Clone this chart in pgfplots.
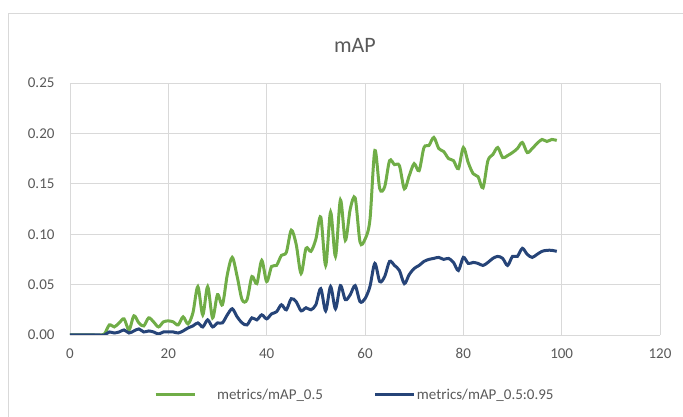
\documentclass[border=0pt]{standalone}
\usepackage{pgfplots}
\pgfplotsset{compat=1.18}
\usepackage{fontspec}
\setmainfont{Carlito}

\definecolor{xlgreen}{HTML}{70AD47}
\definecolor{xlblue}{HTML}{264478}
\definecolor{txtgray}{HTML}{595959}
\definecolor{gridgray}{HTML}{D9D9D9}

% mAP@0.5 per epoch
\pgfplotstableread{
ep map
0 0
1 0
2 0
3 0
4 0
5 0
6 0
7 0.001
8 0.010
9 0.008
10 0.012
11 0.016
12 0.005
13 0.019
14 0.012
15 0.009
16 0.017
17 0.013
18 0.008
19 0.013
20 0.014
21 0.013
22 0.010
23 0.018
24 0.011
25 0.022
26 0.048
27 0.020
28 0.048
29 0.017
30 0.040
31 0.030
32 0.060
33 0.077
34 0.058
35 0.035
36 0.035
37 0.058
38 0.051
39 0.074
40 0.053
41 0.068
42 0.069
43 0.079
44 0.082
45 0.104
46 0.090
47 0.061
48 0.086
49 0.083
50 0.095
51 0.117
52 0.069
53 0.122
54 0.078
55 0.134
56 0.094
57 0.125
58 0.136
59 0.092
60 0.095
61 0.114
62 0.183
63 0.145
64 0.147
65 0.173
66 0.169
67 0.168
68 0.145
69 0.158
70 0.170
71 0.163
72 0.186
73 0.188
74 0.196
75 0.185
76 0.182
77 0.175
78 0.173
79 0.165
80 0.186
81 0.171
82 0.160
83 0.157
84 0.146
85 0.173
86 0.179
87 0.186
88 0.176
89 0.178
90 0.181
91 0.185
92 0.191
93 0.181
94 0.185
95 0.190
96 0.194
97 0.192
98 0.194
99 0.193
}\mapfifty

% mAP@0.5:0.95 per epoch
\pgfplotstableread{
ep map
0 0
1 0
2 0
3 0
4 0
5 0
6 0
7 0
8 0.003
9 0.002
10 0.003
11 0.005
12 0.002
13 0.004
14 0.006
15 0.003
16 0.004
17 0.003
18 0.001
19 0.003
20 0.003
21 0.003
22 0.002
23 0.004
24 0.007
25 0.009
26 0.012
27 0.008
28 0.015
29 0.008
30 0.012
31 0.012
32 0.020
33 0.026
34 0.018
35 0.012
36 0.010
37 0.017
38 0.015
39 0.020
40 0.016
41 0.021
42 0.023
43 0.030
44 0.025
45 0.036
46 0.033
47 0.024
48 0.027
49 0.025
50 0.030
51 0.046
52 0.024
53 0.048
54 0.026
55 0.049
56 0.035
57 0.040
58 0.049
59 0.033
60 0.036
61 0.048
62 0.071
63 0.053
64 0.058
65 0.073
66 0.069
67 0.064
68 0.051
69 0.060
70 0.066
71 0.069
72 0.073
73 0.075
74 0.076
75 0.077
76 0.075
77 0.076
78 0.072
79 0.064
80 0.077
81 0.071
82 0.072
83 0.071
84 0.069
85 0.072
86 0.076
87 0.078
88 0.076
89 0.069
90 0.078
91 0.078
92 0.086
93 0.080
94 0.077
95 0.080
96 0.083
97 0.084
98 0.084
99 0.083
}\mapall

\pgfplotsset{
  xlleg/.style={legend image code/.code={
      \draw[##1, line width=3pt] (0pt,0pt) -- (39pt,0pt);}},
}

\begin{document}
\begin{tikzpicture}[x=1pt,y=1pt]
\useasboundingbox (0,0) rectangle (683,417);
\draw[gridgray] (8,-10) rectangle (700,404);
\node[txtgray, font=\fontsize{22}{26}\selectfont] at (355,372) {mAP};
\begin{axis}[
    at={(70pt,82pt)}, anchor=south west,
    scale only axis,
    width=590pt, height=252pt,
    xmin=0, xmax=120, ymin=0, ymax=0.25,
    xtick={0,20,...,120},
    ytick={0,0.05,...,0.25},
    axis line style={draw=none},
    grid=major,
    major grid style={gridgray, line width=0.8pt},
    tick style={draw=none},
    ticklabel style={txtgray, font=\fontsize{15}{18}\selectfont},
    /pgf/number format/assume math mode=true,
    yticklabel={\pgfmathprintnumber[fixed, fixed zerofill, precision=2]{\tick}},
    xticklabel style={yshift=-10pt},
    yticklabel style={xshift=-12pt},
    legend style={at={(0.137,-0.238)}, anchor=west, draw=none, fill=none,
      legend columns=2,
      font=\fontsize{15}{18}\selectfont, text=txtgray,
      /tikz/every even column/.append style={column sep=50pt},
      nodes={inner sep=1pt}},
]
\addplot[xlgreen, line width=3pt, smooth, xlleg] table[x=ep, y=map] {\mapfifty};
\addlegendentry{\hspace{20pt}metrics/mAP\_0.5}
\addplot[xlblue, line width=3pt, smooth, xlleg] table[x=ep, y=map] {\mapall};
\addlegendentry{metrics/mAP\_0.5:0.95}
\end{axis}
\end{tikzpicture}
\end{document}
